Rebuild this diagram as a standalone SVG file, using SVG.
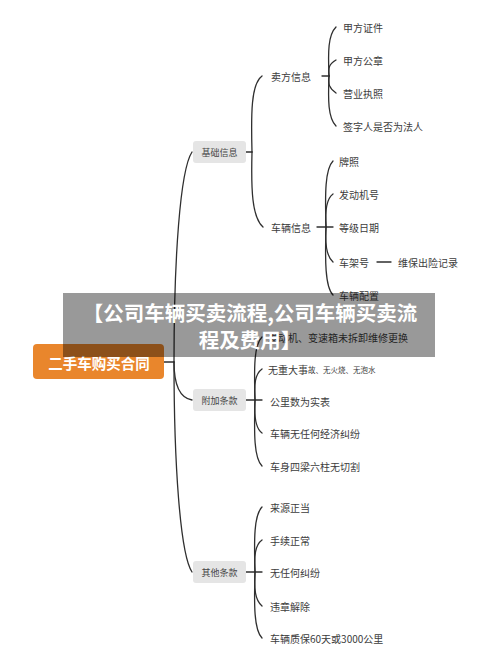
<svg xmlns="http://www.w3.org/2000/svg" width="500" height="652" viewBox="0 0 500 652">
<style>
  text { font-family: "Noto Sans CJK SC", "Noto Sans", sans-serif; dominant-baseline: central; fill: #3c3c3c; }
  .leaf { font-size: 10px; }
  .box { fill: #e5e5e5; }
  .boxt { font-size: 9px; text-anchor: middle; fill: #444; }
  .ln { fill: none; stroke: #2f2f2f; stroke-width: 1.3; stroke-linecap: round; }
  .title { font-size: 20.5px; font-weight: bold; fill: #ffffff; text-anchor: middle; }
</style>
<rect width="500" height="652" fill="#ffffff"/>

<g id="connectors">
  <!-- root trunk -->
  <path class="ln" d="M163,362 L174,362"/>
  <path class="ln" d="M174,362 C174,260 180,170 192,152"/>
  <path class="ln" d="M174,362 C174,386 180,398 192,400"/>
  <path class="ln" d="M174,362 C174,462 180,554 192,572"/>
  <!-- 基础信息 -->
  <path class="ln" d="M246,152 L252,152"/>
  <path class="ln" d="M252,152 C251,114 251,84 262,76"/>
  <path class="ln" d="M252,152 C251,190 252,217 263,227"/>
  <!-- 卖方信息 -->
  <path class="ln" d="M322,76 L329,76"/>
  <path class="ln" d="M329,76 C328,52 328,35 336,27"/>
  <path class="ln" d="M329,76 C328,68 329,64 336,60"/>
  <path class="ln" d="M329,76 C328,84 329,88 336,93"/>
  <path class="ln" d="M329,76 C328,100 328,118 336,126"/>
  <!-- 车辆信息 -->
  <path class="ln" d="M317,227 L333,227"/>
  <path class="ln" d="M326,227 C325,194 325,169 333,161"/>
  <path class="ln" d="M326,227 C325,212 326,199 333,194"/>
  <path class="ln" d="M326,227 C325,242 326,256 333,262"/>
  <path class="ln" d="M326,227 C325,260 325,287 333,295"/>
  <path class="ln" d="M377,262 L391,262"/>
  <!-- 附加条款 -->
  <path class="ln" d="M246,400 L262,400"/>
  <path class="ln" d="M255,400 C254,367 254,345 262,337"/>
  <path class="ln" d="M255,400 C254,384 255,374 262,369"/>
  <path class="ln" d="M255,400 C254,416 255,428 262,433"/>
  <path class="ln" d="M255,400 C254,434 254,458 262,466"/>
  <!-- 其他条款 -->
  <path class="ln" d="M246,572 L262,572"/>
  <path class="ln" d="M255,572 C254,539 254,515 262,507"/>
  <path class="ln" d="M255,572 C254,556 255,545 262,540"/>
  <path class="ln" d="M255,572 C254,589 255,600 262,606"/>
  <path class="ln" d="M255,572 C254,605 254,630 262,638"/>
</g>

<g id="root">
  <rect x="33" y="344" width="131" height="35" rx="4" fill="#e9862c"/>
  <text x="99" y="362" font-size="14.5" font-weight="bold" text-anchor="middle" fill="#ffffff" style="fill:#ffffff">二手车购买合同</text>
</g>

<g id="n-jichu">
  <rect class="box" x="193" y="141" width="53" height="22" rx="3"/>
  <text class="boxt" x="219.5" y="152">基础信息</text>
</g>
<g id="n-fujia">
  <rect class="box" x="193" y="389" width="53" height="22" rx="3"/>
  <text class="boxt" x="219.5" y="400">附加条款</text>
</g>
<g id="n-qita">
  <rect class="box" x="193" y="561" width="53" height="22" rx="3"/>
  <text class="boxt" x="219.5" y="572">其他条款</text>
</g>

<g id="n-maifang"><text class="leaf" x="271" y="76">卖方信息</text></g>
<g id="n-cheliang"><text class="leaf" x="271" y="227">车辆信息</text></g>

<g id="n-jf-zj"><text class="leaf" x="343" y="27">甲方证件</text></g>
<g id="n-jf-gz"><text class="leaf" x="343" y="60">甲方公章</text></g>
<g id="n-yyzz"><text class="leaf" x="343" y="93">营业执照</text></g>
<g id="n-qzr"><text class="leaf" x="343" y="126">签字人是否为法人</text></g>

<g id="n-pz"><text class="leaf" x="339" y="161">牌照</text></g>
<g id="n-fdj"><text class="leaf" x="339" y="194">发动机号</text></g>
<g id="n-djrq"><text class="leaf" x="339" y="227">等级日期</text></g>
<g id="n-cjh"><text class="leaf" x="339" y="262">车架号</text></g>
<g id="n-wb"><text class="leaf" x="398" y="262">维保出险记录</text></g>
<g id="n-clpz"><text class="leaf" x="339" y="295">车辆配置</text></g>

<g id="n-fdjbsx"><text class="leaf" x="268" y="337">发动机、变速箱未拆卸维修更换</text></g>
<g id="n-wzdsg"><text class="leaf" x="268" y="369">无重大事<tspan font-size="7.5">故、无火烧、无泡水</tspan></text></g>
<g id="n-glsw"><text class="leaf" x="270" y="401">公里数为实表</text></g>
<g id="n-wjjjf"><text class="leaf" x="270" y="433">车辆无任何经济纠纷</text></g>
<g id="n-cssl"><text class="leaf" x="270" y="466">车身四梁六柱无切割</text></g>

<g id="n-lyzd"><text class="leaf" x="270" y="507">来源正当</text></g>
<g id="n-sxzc"><text class="leaf" x="270" y="540">手续正常</text></g>
<g id="n-wrhjf"><text class="leaf" x="270" y="572">无任何纠纷</text></g>
<g id="n-wzjc"><text class="leaf" x="270" y="606">违章解除</text></g>
<g id="n-zb"><text class="leaf" x="270" y="638">车辆质保60天或3000公里</text></g>

<g id="overlay">
  <rect x="63" y="293" width="372" height="64" fill="#000000" fill-opacity="0.4"/>
  <text class="title" x="250" y="312">【公司车辆买卖流程,公司车辆买卖流</text>
  <text class="title" x="250" y="339">程及费用】</text>
</g>
</svg>
